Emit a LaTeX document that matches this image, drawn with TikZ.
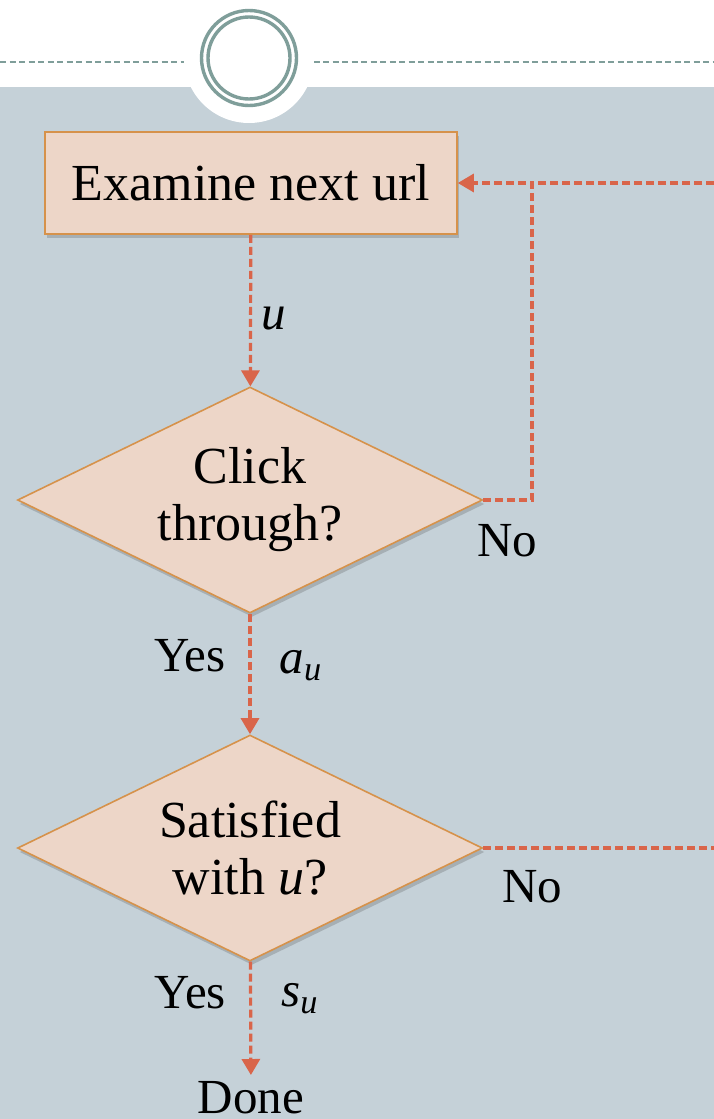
\documentclass[tikz,border=0pt]{standalone}
\usepackage{fontspec}
\setmainfont{Liberation Serif}
\usepackage{amsmath}
\usetikzlibrary{shapes.geometric,arrows.meta,shadows,positioning,calc}

\definecolor{slate}{HTML}{C5D1D8}
\definecolor{boxfill}{HTML}{EDD6C8}
\definecolor{boxline}{HTML}{D6924B}
\definecolor{flowred}{HTML}{D9654A}
\definecolor{ringcol}{HTML}{7F9E9A}

\newcommand\boxfont{\fontsize{52}{57}\selectfont}
\newcommand\labfont{\fontsize{49}{54}\selectfont}

\begin{document}
\begin{tikzpicture}[x=1pt, y=-1pt,
    shade/.style = {drop shadow={shadow xshift=2pt, shadow yshift=-4pt, opacity=.25, fill=black!70}},
    stepbox/.style = {rectangle, draw=boxline, fill=boxfill, line width=1.6pt,
      minimum width=412pt, minimum height=102pt, font=\boxfont, shade},
    test/.style = {diamond, aspect=2.06, draw=boxline, fill=boxfill, line width=1.6pt, inner sep=0pt,
      minimum width=465pt, minimum height=226pt, align=center, font=\boxfont, shade},
    link/.style = {draw=flowred, line width=3.2pt, dash pattern=on 8pt off 4pt},
    flow/.style = {link, -{Triangle[length=16pt,width=18pt]}},
    lbl/.style = {font=\labfont, inner sep=0pt},
  ]
  \useasboundingbox (0,0) rectangle (714,1119);
  % slide backdrop
  \fill[slate] (0,87) rectangle (714,1119);
  \draw[ringcol, line width=2pt, dash pattern=on 6pt off 3.5pt] (0,62) -- (714,62);
  \fill[white] (249,58) circle (65);
  \draw[ringcol, line width=3.4pt] (249,58) circle (47.5);
  \draw[ringcol, line width=3.4pt] (249,58) circle (41);

  % chart
  \node[stepbox] (exam) at (251,183) {Examine next url};
  \node[test] (click) at (250,500) {Click\\through?};
  \node[test] (satis) at (250,848) {Satisfied\\with \textit{u}?};
  \node[lbl, anchor=north, inner ysep=6pt] (done) at (251,1075) {Done};
  \node[lbl, anchor=north west] (no1) at ($(click.east)+(-6,24)$) {No};
  \node[lbl, anchor=north west] (no2) at ($(satis.east)+(19,22)$) {No};

  \coordinate (turn) at (532,183);
  \coordinate (outtop) at (714,183);
  \coordinate (outlow) at (714,848);

  \draw[flow] (exam) -- node[lbl, right=9pt, pos=.55] {\textit{u}} (click);
  \draw[flow] (click) -- node[lbl, left=23pt, pos=.35] {Yes}
    node[lbl, right=28pt, pos=.43] {$\textit{a}_{\textit{u}}$} (satis);
  \draw[flow] (satis) -- node[lbl, left=23pt, pos=.27] {Yes}
    node[lbl, right=29pt, pos=.33] {$\textit{s}_{\textit{u}}$} (done);
  \draw[flow] (click.east) -| (turn) -- (exam.east);
  \draw[link] (outtop) -- (turn);
  \draw[link] (satis.east) -- (outlow);
\end{tikzpicture}
\end{document}
